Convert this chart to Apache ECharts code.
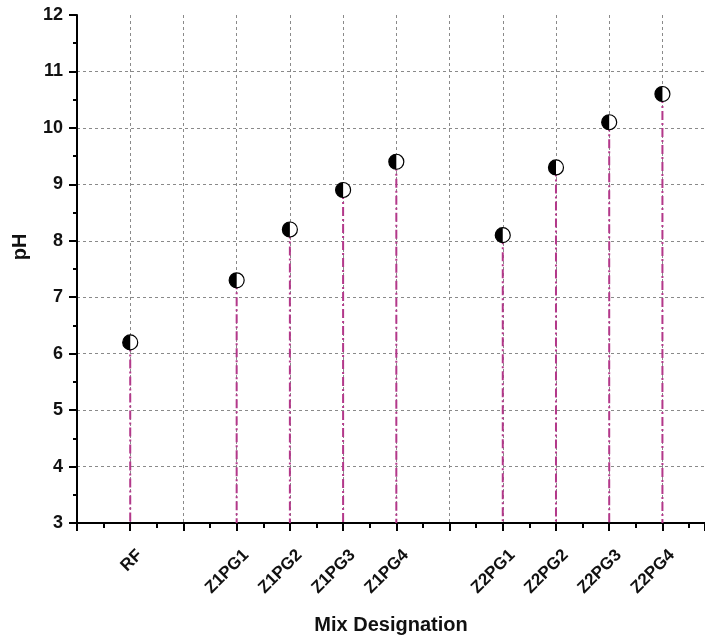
<!DOCTYPE html>
<html>
<head>
<meta charset="utf-8">
<script src="https://cdn.jsdelivr.net/npm/echarts@6/dist/echarts.min.js"></script>
<style>
    html, body { margin: 0; padding: 0; background: #fff; }
    #chart { width: 705px; height: 639px; }
</style>
</head>
<body>
<div id="chart"></div>
<script>
// 数据
const axisSlots = ['', 'RF', '', 'Z1PG1', 'Z1PG2', 'Z1PG3', 'Z1PG4', '', 'Z2PG1', 'Z2PG2', 'Z2PG3', 'Z2PG4'];
const mixes = ['RF', 'Z1PG1', 'Z1PG2', 'Z1PG3', 'Z1PG4', 'Z2PG1', 'Z2PG2', 'Z2PG3', 'Z2PG4'];
const phValues = [6.2, 7.3, 8.2, 8.9, 9.4, 8.1, 9.3, 10.1, 10.6];
const yTicks = [3, 4, 5, 6, 7, 8, 9, 10, 11, 12];

const points = mixes.map((m, i) => [axisSlots.indexOf(m), phValues[i]]);
const yMin = yTicks[0];

const chart = echarts.init(document.getElementById('chart'));
const font = 'Liberation Sans, Arial, sans-serif';
const gridLine = { show: true, lineStyle: { color: '#8a8a8a', type: [3, 3], width: 1 } };

const option = {
    animation: false,
    grid: { left: 77, top: 15, right: 0, bottom: 116, outerBoundsMode: 'none', containLabel: false },
    xAxis: {
        type: 'value',
        min: 0,
        max: 11.8,
        interval: 1,
        name: 'Mix Designation',
        nameLocation: 'middle',
        nameGap: 92,
        nameTextStyle: { fontFamily: font, fontWeight: 'bold', fontSize: 20, color: '#111' },
        axisLine: { lineStyle: { color: '#000', width: 2 } },
        axisTick: { length: 8, lineStyle: { color: '#000', width: 2 } },
        minorTick: { show: true, splitNumber: 2, length: 5, lineStyle: { color: '#000', width: 2 } },
        splitLine: Object.assign({ showMinLine: false }, gridLine),
        axisLabel: {
            rotate: 45,
            margin: 20,
            verticalAlign: 'top',
            padding: [5, 0, 0, 0],
            showMaxLabel: false,
            fontFamily: font,
            fontWeight: 'bold',
            fontSize: 17,
            color: '#111',
            formatter: v => (Number.isInteger(v) && axisSlots[v]) ? axisSlots[v] : ''
        }
    },
    yAxis: {
        type: 'value',
        min: yMin,
        max: yTicks[yTicks.length - 1],
        interval: 1,
        name: 'pH',
        nameLocation: 'middle',
        nameGap: 47,
        nameTextStyle: { fontFamily: font, fontWeight: 'bold', fontSize: 20, color: '#111', padding: [0, 0, 0, 44] },
        axisLine: { show: true, lineStyle: { color: '#000', width: 2 } },
        axisTick: { show: true, length: 8, lineStyle: { color: '#000', width: 2 } },
        minorTick: { show: true, splitNumber: 2, length: 4, lineStyle: { color: '#000', width: 2 } },
        splitLine: Object.assign({ showMinLine: false, showMaxLine: false }, gridLine),
        axisLabel: {
            margin: 14,
            fontFamily: font,
            fontWeight: 'bold',
            fontSize: 18,
            color: '#111'
        }
    },
    series: [
        {
            // 竖线
            type: 'custom',
            data: points,
            z: 2,
            renderItem: function(params, api) {
                const top = api.coord([api.value(0), api.value(1)]);
                const bottom = api.coord([api.value(0), yMin]);
                return {
                    type: 'line',
                    shape: { x1: top[0], y1: top[1], x2: bottom[0], y2: bottom[1] },
                    style: { stroke: '#b3388a', lineWidth: 2, lineDash: [9, 3, 2, 3] }
                };
            }
        },
        {
            type: 'scatter',
            data: points,
            z: 3,
            symbol: 'circle',
            symbolSize: 15,
            itemStyle: { color: '#fff', borderColor: '#000', borderWidth: 1.2, opacity: 1 }
        },
        {
            // 左半黑
            type: 'scatter',
            data: points,
            z: 4,
            symbol: 'path://M10 0 A10 10 0 0 0 10 20 Z',
            symbolSize: [7.5, 15],
            symbolOffset: [-3.75, 0],
            itemStyle: { color: '#000', opacity: 1 }
        }
    ]
};

chart.setOption(option);
</script>
</body>
</html>
